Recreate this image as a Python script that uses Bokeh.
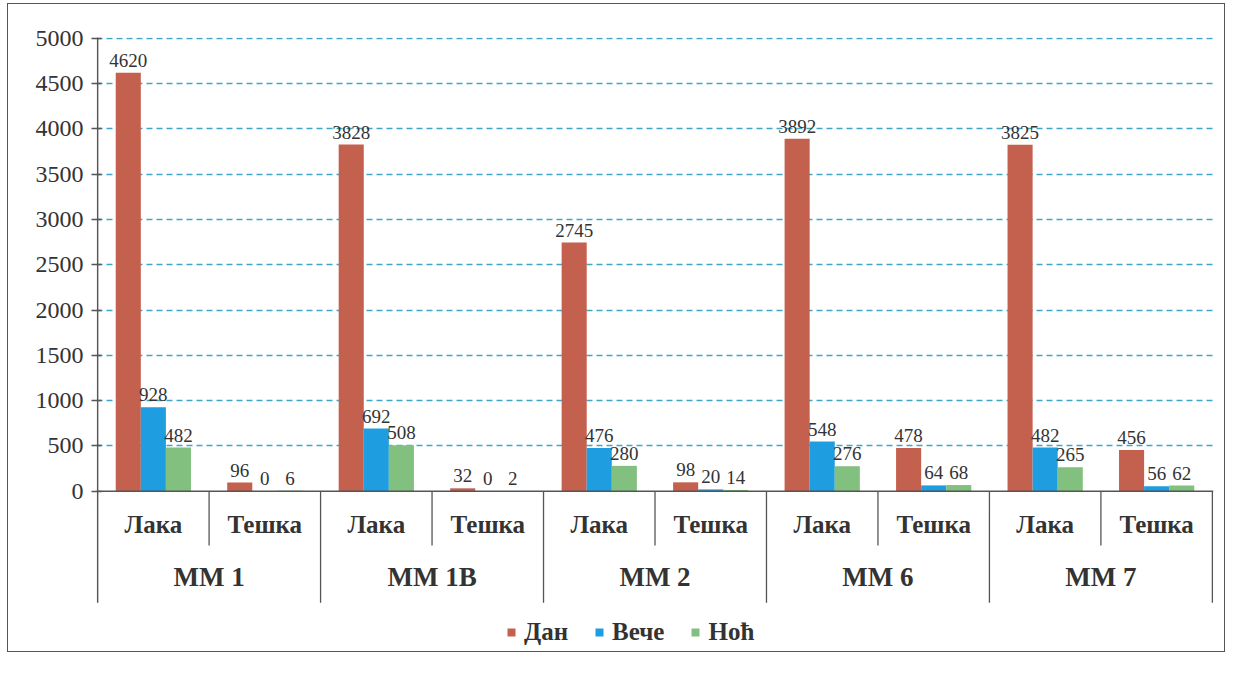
from bokeh.plotting import figure
from bokeh.models import (FactorRange, ColumnDataSource, Legend, LegendItem,
                          FixedTicker, Span)
from bokeh.transform import dodge
from bokeh.core.properties import value
from bokeh.embed import file_html
from bokeh.resources import INLINE

# ---- data ----
groups = ["ММ 1", "ММ 1В", "ММ 2", "ММ 6", "ММ 7"]
subs = ["Лака", "Тешка"]
series = ["Дан", "Вече", "Ноћ"]
dan = [4620, 96, 3828, 32, 2745, 98, 3892, 478, 3825, 456]
veche = [928, 0, 692, 0, 476, 20, 548, 64, 482, 56]
noc = [482, 6, 508, 2, 280, 14, 276, 68, 265, 62]
y_ticks = [0, 500, 1000, 1500, 2000, 2500, 3000, 3500, 4000, 4500, 5000]

colors = ["#c4604e", "#1e9de0", "#82c07f"]
SERIF = "Liberation Serif"
INK = "#333333"
LINE = "#555555"

factors = [(g, s) for g in groups for s in subs]
src = ColumnDataSource(dict(
    x=factors, sub=[f[1] for f in factors],
    dan=dan, veche=veche, noc=noc,
    dan_l=[str(v) for v in dan], veche_l=[str(v) for v in veche],
    noc_l=[str(v) for v in noc],
    lab_y=[-370] * len(factors),
))

x_range = FactorRange(*factors, factor_padding=0, group_padding=0,
                      range_padding=0.002)

Y_END = 5010
Y_START = -1748
TABLE_BOTTOM = -1231

p = figure(width=1218, height=649, x_range=x_range, y_range=(Y_START, Y_END),
           output_backend="svg", toolbar_location=None,
           x_axis_location=None, min_border_left=88, min_border_right=13,
           min_border_top=33, min_border_bottom=4, outline_line_color=None)
p.styles = {"border": "1.5px solid #555", "margin-left": "7px",
            "margin-top": "3px"}

# grid
p.xgrid.visible = False
p.ygrid.ticker = FixedTicker(ticks=y_ticks[1:])
p.ygrid.grid_line_color = "#3fa6c8"
p.ygrid.grid_line_dash = "6 4"
p.ygrid.grid_line_width = 1.3

# y axis (line drawn separately so it stops at the table bottom)
p.yaxis.ticker = FixedTicker(ticks=y_ticks)
p.yaxis.major_label_text_font = SERIF
p.yaxis.major_label_text_font_size = "24px"
p.yaxis.major_label_text_color = INK
p.yaxis.axis_line_color = None
p.yaxis.major_tick_line_color = LINE
p.yaxis.major_tick_line_width = 1.3
p.yaxis.major_tick_in = 5
p.yaxis.major_tick_out = 5
p.yaxis.minor_tick_line_color = None
p.yaxis.major_label_standoff = 8

# baseline
p.add_layout(Span(location=0, dimension="width", line_color=LINE,
                  line_width=1.5))

# bars
w = 0.225
offs = [-w, 0, w]
cols = ["dan", "veche", "noc"]
renderers = []
for c, o, col in zip(cols, offs, colors):
    r = p.vbar(x=dodge("x", o, range=p.x_range), top=c, width=w, source=src,
               fill_color=col, line_color=None)
    renderers.append(r)
    p.text(x=dodge("x", o, range=p.x_range), y=c, text=c + "_l", source=src,
           text_font=value(SERIF), text_font_size="19px", text_color=INK,
           text_align="center", text_baseline="bottom", y_offset=-6)

# category table
p.text(x="x", y="lab_y", text="sub", source=src, text_font=value(SERIF),
       text_font_size="25px", text_font_style="bold", text_color=INK,
       text_align="center", text_baseline="middle")

gsrc = ColumnDataSource(dict(
    g=groups, gt=[(g, "Тешка") for g in groups],
    gy=[-950] * len(groups), top=[0] * len(groups), mid=[-600] * len(groups),
    bot=[TABLE_BOTTOM] * len(groups)))
p.text(x="g", y="gy", text="g", source=gsrc, text_font=value(SERIF),
       text_font_size="27px", text_font_style="bold", text_color=INK,
       text_align="center", text_baseline="middle")
# divider between Лака and Тешка
p.segment(x0="g", y0="top", x1="g", y1="mid", source=gsrc,
          line_color=LINE, line_width=1.3)
# group boundaries
p.segment(x0=dodge("gt", 0.5, range=p.x_range), y0="top",
          x1=dodge("gt", 0.5, range=p.x_range), y1="bot", source=gsrc,
          line_color=LINE, line_width=1.3)
# value axis line, continued down through the table
asrc = ColumnDataSource(dict(x=[factors[0]], y0=[Y_END], y1=[TABLE_BOTTOM]))
p.segment(x0=dodge("x", -0.5, range=p.x_range), y0="y0",
          x1=dodge("x", -0.5, range=p.x_range), y1="y1", source=asrc,
          line_color=LINE, line_width=1.5)

legend = Legend(items=[LegendItem(label=s, renderers=[r])
                       for s, r in zip(series, renderers)],
                orientation="horizontal", location=(410, 3),
                label_text_font=SERIF, label_text_font_size="25px",
                label_text_font_style="bold", label_text_color=INK,
                glyph_width=10, glyph_height=10, spacing=26,
                border_line_color=None, background_fill_alpha=0,
                padding=4, margin=0, label_standoff=8)
p.add_layout(legend)

open("out.html", "w").write(file_html(p, INLINE))
